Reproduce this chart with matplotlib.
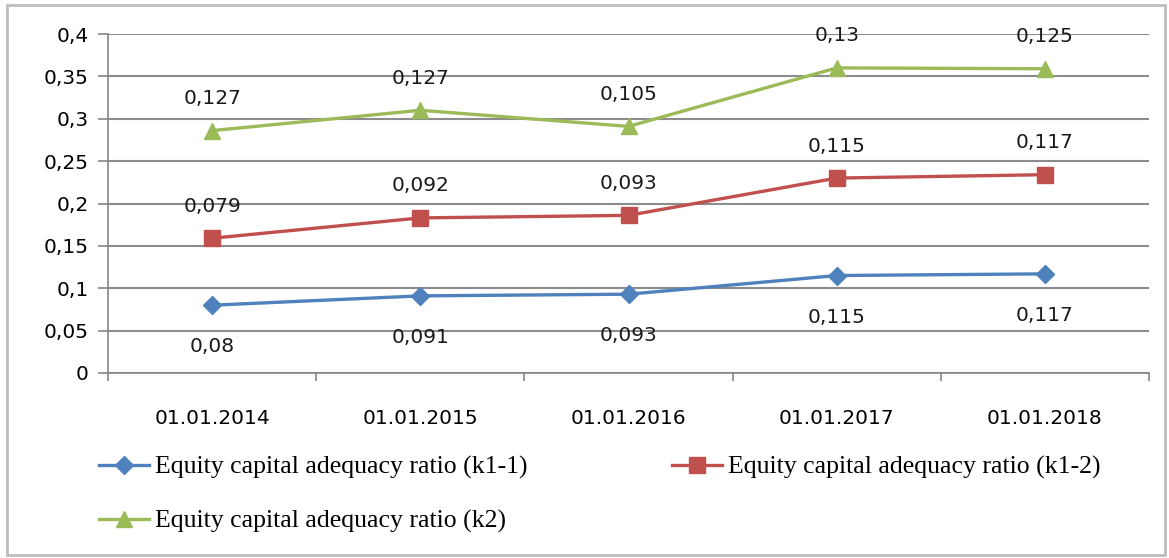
import numpy as np
import matplotlib
matplotlib.use("Agg")
import matplotlib.pyplot as plt
from matplotlib.patches import Rectangle
from matplotlib.ticker import FixedLocator

# данные по коэффициентам достаточности капитала (значения каждой серии)
dates = ["01.01.2014", "01.01.2015", "01.01.2016", "01.01.2017", "01.01.2018"]
k1_1 = [0.08, 0.091, 0.093, 0.115, 0.117]
k1_2 = [0.079, 0.092, 0.093, 0.115, 0.117]
k2 = [0.127, 0.127, 0.105, 0.13, 0.125]
names = ["Equity capital adequacy ratio (k1-1)",
         "Equity capital adequacy ratio (k1-2)",
         "Equity capital adequacy ratio (k2)"]
y_ticks = [0, 0.05, 0.1, 0.15, 0.2, 0.25, 0.3, 0.35, 0.4]

def comma(v):
    return ("%g" % v).replace(".", ",")

# график с накоплением: каждая линия строится поверх предыдущей
series = np.array([k1_1, k1_2, k2])
stacked = np.cumsum(series, axis=0)

colors = ["#4F81BD", "#C0504D", "#9BBB59"]
markers = ["D", "s", "^"]
msizes = [9, 11, 11]
label_off = [-30, 23, 23]

fig = plt.figure(figsize=(11.69, 5.58), dpi=100)
ax = fig.add_axes([108 / 1169, 1 - 373 / 558, 1041 / 1169, 339 / 558])

x = np.arange(len(dates))
lines = []
for i in range(3):
    ln, = ax.plot(x, stacked[i], color=colors[i], lw=2.4, marker=markers[i],
                  markersize=msizes[i], label=names[i], zorder=3)
    lines.append(ln)
    for xi, yi, v in zip(x, stacked[i], series[i]):
        ax.annotate(comma(v), (xi, yi), xytext=(0, label_off[i]),
                    textcoords="offset points", ha="center", va="center",
                    fontsize=14.5, color="#1a1a1a", zorder=4)

ax.set_xlim(-0.5, len(dates) - 0.5)
ax.set_ylim(0, 0.4)
ax.set_yticks(y_ticks)
ax.set_yticklabels([comma(t) for t in y_ticks], fontsize=14.5)
ax.set_xticks(x)
ax.set_xticklabels(dates, fontsize=14.5)
ax.xaxis.set_minor_locator(FixedLocator(np.arange(-0.5, len(dates), 1.0)))
ax.tick_params(axis="x", which="major", length=0, pad=26)
ax.tick_params(axis="x", which="minor", length=6, color="#868686", width=1.2)
ax.tick_params(axis="y", length=7, color="#868686", width=1.2, pad=7)
ax.grid(axis="y", color="#8c8c8c", lw=1.5)
ax.set_axisbelow(True)
for s in ["top", "right"]:
    ax.spines[s].set_visible(False)
ax.spines["left"].set_color("#868686")
ax.spines["bottom"].set_color("#868686")
ax.spines["left"].set_linewidth(1.2)
ax.spines["bottom"].set_linewidth(1.2)

# легенда в две колонки под графиком
fig.legend([lines[0], lines[2], lines[1]], [names[0], names[2], names[1]],
           ncol=2, loc="upper left", bbox_to_anchor=(86 / 1169, 1 - 443 / 558),
           frameon=False, borderpad=0, handlelength=1.95, handletextpad=0.25,
           columnspacing=5.6, labelspacing=1.2,
           prop={"family": "Liberation Serif", "size": 18.5})

# рамка вокруг всей диаграммы
fig.patches.append(Rectangle((7 / 1169, 3 / 558), 1158 / 1169, 550 / 558,
                             transform=fig.transFigure, fill=False,
                             edgecolor="#bdbdbd", lw=2))

fig.savefig("out.png", dpi=100)
